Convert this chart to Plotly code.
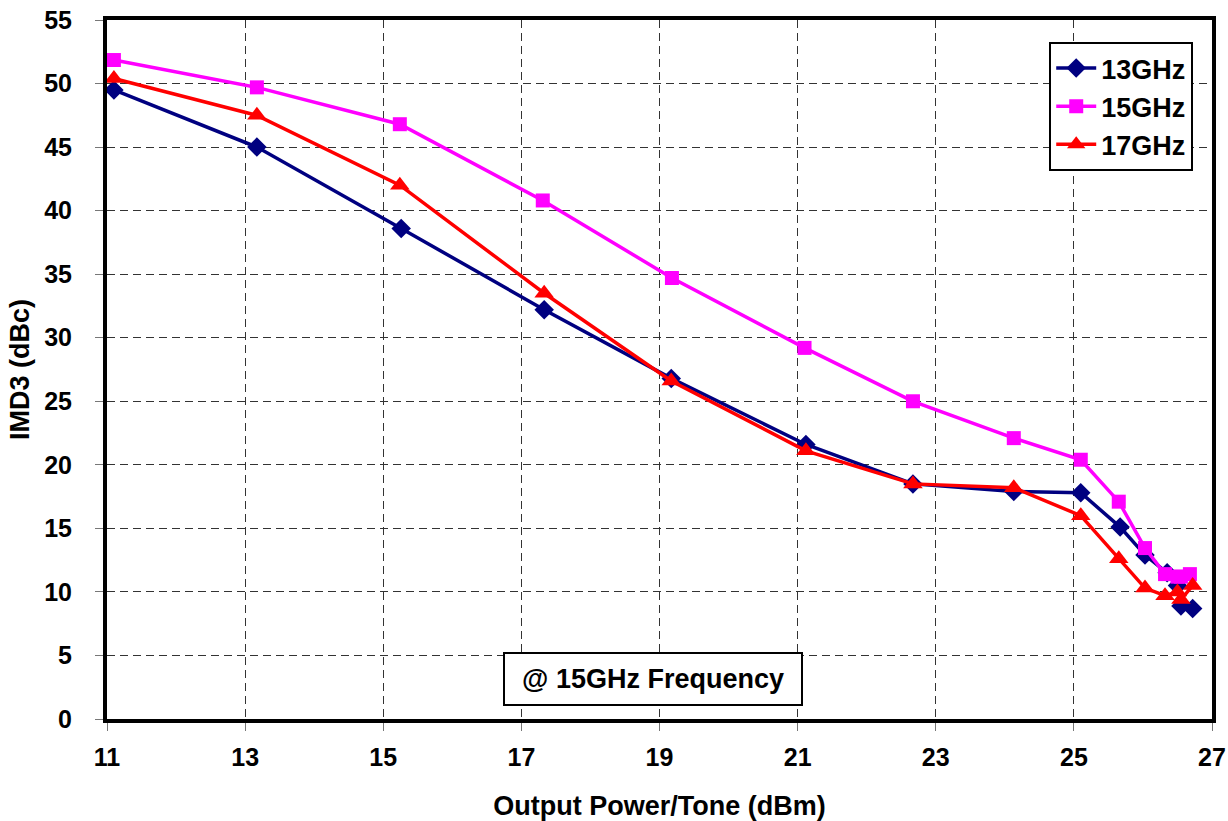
import plotly.graph_objects as go

x13 = [11.1, 13.17, 15.26, 17.33, 19.17, 21.12, 22.67, 24.13, 25.1, 25.67, 26.03, 26.35, 26.5, 26.55, 26.72]
y13 = [49.5, 45.0, 38.6, 32.2, 26.8, 21.6, 18.5, 17.9, 17.8, 15.1, 12.9, 11.5, 10.5, 8.9, 8.7]

x15 = [11.1, 13.17, 15.24, 17.31, 19.18, 21.1, 22.67, 24.13, 25.1, 25.65, 26.03, 26.32, 26.5, 26.55, 26.68]
y15 = [51.85, 49.7, 46.8, 40.8, 34.7, 29.2, 25.0, 22.1, 20.4, 17.1, 13.45, 11.4, 11.2, 11.2, 11.4]

x17 = [11.1, 13.17, 15.24, 17.33, 19.17, 21.12, 22.67, 24.13, 25.1, 25.65, 26.03, 26.32, 26.5, 26.55, 26.72]
y17 = [50.4, 47.5, 42.0, 33.5, 26.6, 21.1, 18.5, 18.2, 16.0, 12.6, 10.3, 9.7, 10.0, 9.4, 10.5]

x_ticks = [11, 13, 15, 17, 19, 21, 23, 25, 27]
y_ticks = [0, 5, 10, 15, 20, 25, 30, 35, 40, 45, 50, 55]

FONT = "Liberation Sans"
FS = 25
FT = 27

fig = go.Figure()
fig.add_trace(go.Scatter(x=x13, y=y13, name="13GHz", mode="lines+markers",
                         line=dict(color="#000080", width=3.5),
                         marker=dict(symbol="diamond", size=15, color="#000080")))
fig.add_trace(go.Scatter(x=x15, y=y15, name="15GHz", mode="lines+markers",
                         line=dict(color="#FF00FF", width=3.5),
                         marker=dict(symbol="square", size=14, color="#FF00FF")))
fig.add_trace(go.Scatter(x=x17, y=y17, name="17GHz", mode="lines+markers",
                         line=dict(color="#FF0000", width=3.5),
                         marker=dict(symbol="triangle-up", size=17, color="#FF0000")))

axis_common = dict(
    showline=True, linecolor="black", linewidth=4, mirror=True,
    showgrid=True, gridcolor="#333333", griddash="8px,5px", gridwidth=1,
    ticks="outside", ticklen=8, tickcolor="#777777", tickwidth=1,
    tickfont=dict(family=FONT, size=FS, color="black", weight="bold"),
    zeroline=False, automargin=False, ticklabeloverflow="allow",
)

fig.update_layout(
    width=1228, height=821,
    paper_bgcolor="white", plot_bgcolor="white",
    margin=dict(l=107, r=16, t=20, b=102, autoexpand=False),
    font=dict(family=FONT, color="black"),
    xaxis=dict(range=[11, 27], tickvals=x_ticks,
               title=dict(text="<b>Output Power/Tone (dBm)</b>", font=dict(family=FONT, size=FT), standoff=28),
               ticklabelstandoff=5,
               **axis_common),
    yaxis=dict(range=[0, 55], tickvals=y_ticks,
               title=dict(text="<b>IMD3 (dBc)</b>", font=dict(family=FONT, size=FT), standoff=8),
               ticklabelstandoff=18,
               **axis_common),
    legend=dict(x=0.983, y=0.9685, xanchor="right", yanchor="top",
                bgcolor="white", bordercolor="black", borderwidth=2,
                font=dict(family=FONT, size=27, color="black", weight="bold"),
                itemwidth=40, tracegroupgap=2),
    showlegend=True,
)

fig.add_annotation(
    x=0.494, y=0.057, xref="paper", yref="paper", xanchor="center", yanchor="middle",
    text="<b>@ 15GHz Frequency</b>", showarrow=False,
    font=dict(family=FONT, size=FT, color="black"),
    bgcolor="white", bordercolor="black", borderwidth=2,
    borderpad=10, width=276, height=30,
)

fig.write_html("out.html", config={"displayModeBar": False},
               post_script="document.body.style.margin='0';")
